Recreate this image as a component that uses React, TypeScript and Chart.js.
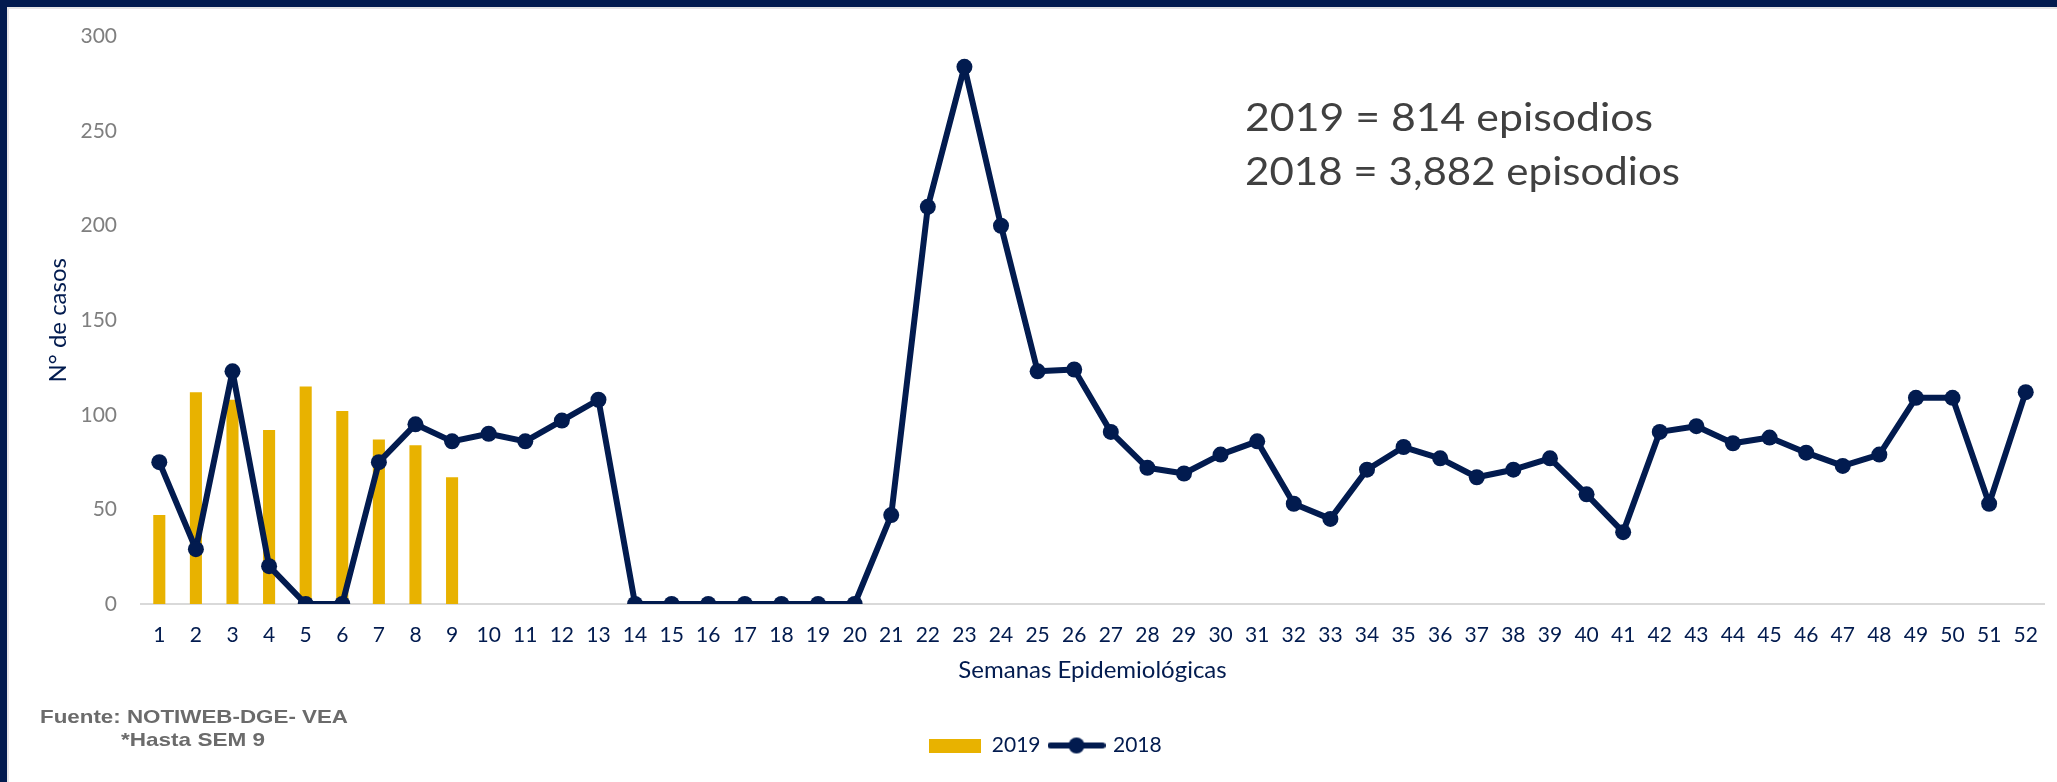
import React, { useEffect, useRef } from "react";
import { Chart, registerables } from "chart.js";

Chart.register(...registerables);

const weeks = [
  "1", "2", "3", "4", "5", "6", "7", "8", "9", "10", "11", "12", "13",
  "14", "15", "16", "17", "18", "19", "20", "21", "22", "23", "24", "25", "26",
  "27", "28", "29", "30", "31", "32", "33", "34", "35", "36", "37", "38", "39",
  "40", "41", "42", "43", "44", "45", "46", "47", "48", "49", "50", "51", "52",
];

const cases2019: (number | null)[] = [47, 112, 108, 92, 115, 102, 87, 84, 67];

const cases2018 = [
  75, 29, 123, 20, 0, 0, 75, 95, 86, 90, 86, 97, 108,
  0, 0, 0, 0, 0, 0, 0, 47, 210, 284, 200, 123, 124,
  91, 72, 69, 79, 86, 53, 45, 71, 83, 77, 67, 71, 77,
  58, 38, 91, 94, 85, 88, 80, 73, 79, 109, 109, 53, 112,
];

const yTicks = [0, 50, 100, 150, 200, 250, 300];

const seriesLabels = ["2019", "2018"];
const summaryLines = ["2019 = 814 episodios", "2018 = 3,882 episodios"];
const sourceLines = ["Fuente: NOTIWEB-DGE- VEA", "*Hasta SEM 9"];
const yTitle = "N° de casos";
const xTitle = "Semanas Epidemiológicas";

const NAVY = "#021B4F";
const GOLD = "#E8B200";
const W = 2057;
const H = 782;
const FONT = "Lato, 'Open Sans', sans-serif";

function makeRectSwatch(): HTMLCanvasElement {
  const c = document.createElement("canvas");
  c.width = 52;
  c.height = 14;
  const g = c.getContext("2d")!;
  g.fillStyle = GOLD;
  g.fillRect(0, 0, 52, 14);
  return c;
}

function makeLineSwatch(): HTMLCanvasElement {
  const c = document.createElement("canvas");
  c.width = 58;
  c.height = 18;
  const g = c.getContext("2d")!;
  g.strokeStyle = NAVY;
  g.lineWidth = 6;
  g.lineCap = "round";
  g.beginPath();
  g.moveTo(3, 9);
  g.lineTo(55, 9);
  g.stroke();
  g.fillStyle = NAVY;
  g.beginPath();
  g.arc(29, 9, 8, 0, Math.PI * 2);
  g.fill();
  return c;
}

function drawStretched(ctx: CanvasRenderingContext2D, text: string, x: number, y: number, targetWidth: number) {
  const w = ctx.measureText(text).width;
  const sx = w > 0 ? targetWidth / w : 1;
  ctx.save();
  ctx.translate(x, y);
  ctx.scale(sx, 1);
  ctx.fillText(text, 0, 0);
  ctx.restore();
}

const framePlugin = {
  id: "frame",
  beforeDraw(chart: any) {
    const ctx = chart.ctx;
    ctx.save();
    ctx.fillStyle = "#FFFFFF";
    ctx.fillRect(0, 0, W, H);
    ctx.fillStyle = "#E6E6E6";
    ctx.fillRect(0, 7, W, 2);
    ctx.fillRect(7, 0, 2, H);
    ctx.fillStyle = NAVY;
    ctx.fillRect(0, 0, W, 7);
    ctx.fillRect(0, 0, 7, H);
    ctx.restore();
  },
  afterLayout(chart: any) {
    if (chart.legend) {
      chart.legend.left += 22;
      chart.legend.right += 22;
    }
  },
  afterDraw(chart: any) {
    const ctx = chart.ctx;
    ctx.save();
    ctx.fillStyle = "#404040";
    ctx.textBaseline = "middle";
    ctx.textAlign = "left";
    ctx.font = `38px ${FONT}`;
    drawStretched(ctx, summaryLines[0], 1245, 119, 408);
    drawStretched(ctx, summaryLines[1], 1245, 173, 435);

    ctx.fillStyle = "#6B6B6B";
    ctx.font = `bold 19px 'Liberation Sans', Arial, sans-serif`;
    drawStretched(ctx, sourceLines[0], 40, 718, 308);
    drawStretched(ctx, sourceLines[1], 121, 741, 144);
    ctx.restore();
  },
};

export default function App() {
  const ref = useRef<HTMLCanvasElement | null>(null);

  useEffect(() => {
    document.body.style.margin = "0";
    const canvas = ref.current!;
    const rectSwatch = makeRectSwatch();
    const lineSwatch = makeLineSwatch();

    const chart = new Chart(canvas, {
      type: "bar",
      data: {
        labels: weeks,
        datasets: [
          {
            type: "bar",
            label: seriesLabels[0],
            data: cases2019,
            backgroundColor: GOLD,
            borderWidth: 0,
            categoryPercentage: 1,
            barPercentage: 0.33,
            order: 2,
          },
          {
            type: "line",
            label: seriesLabels[1],
            data: cases2018,
            borderColor: NAVY,
            backgroundColor: NAVY,
            borderWidth: 6,
            borderJoinStyle: "round",
            borderCapStyle: "round",
            pointRadius: 8,
            pointHoverRadius: 8,
            pointBackgroundColor: NAVY,
            pointBorderWidth: 0,
            tension: 0,
            fill: false,
            order: 1,
          } as any,
        ],
      },
      options: {
        responsive: false,
        animation: false,
        devicePixelRatio: 1,
        layout: { padding: { left: 0, right: 10, top: 36, bottom: 16 } },
        plugins: {
          tooltip: { enabled: false },
          title: { display: false },
          legend: {
            display: true,
            position: "bottom",
            labels: {
              usePointStyle: true,
              pointStyleWidth: 52,
              boxHeight: 14,
              padding: 10,
              color: NAVY,
              font: { family: FONT, size: 21 },
              generateLabels: (ch: any) =>
                ch.data.datasets.map((ds: any, i: number) => ({
                  text: ds.label,
                  datasetIndex: i,
                  fillStyle: i === 0 ? GOLD : NAVY,
                  strokeStyle: i === 0 ? GOLD : NAVY,
                  lineWidth: 0,
                  hidden: !ch.isDatasetVisible(i),
                  pointStyle: i === 0 ? rectSwatch : lineSwatch,
                  fontColor: NAVY,
                })),
            },
          },
        },
        scales: {
          x: {
            offset: true,
            grid: { display: false, drawTicks: false },
            border: { display: true, color: "#D9D9D9", width: 2 },
            ticks: {
              color: NAVY,
              font: { family: FONT, size: 21 },
              padding: 19,
              maxRotation: 0,
              autoSkip: false,
            },
            title: {
              display: true,
              text: xTitle,
              color: NAVY,
              font: { family: FONT, size: 24 },
              padding: { top: 10, bottom: 40 },
            },
            afterFit: (s: any) => {
              s.height = 121;
            },
          },
          y: {
            min: 0,
            max: 300,
            grid: { display: false, drawTicks: false },
            border: { display: false },
            afterBuildTicks: (s: any) => {
              s.ticks = yTicks.map((v) => ({ value: v }));
            },
            ticks: {
              color: "#7F7F7F",
              font: { family: FONT, size: 21 },
              padding: 24,
            },
            title: {
              display: true,
              text: yTitle,
              color: NAVY,
              font: { family: FONT, size: 24 },
              padding: { top: 44, bottom: 0 },
            },
            afterFit: (s: any) => {
              s.width = 141;
            },
          },
        },
      },
      plugins: [framePlugin],
    });

    return () => {
      chart.destroy();
    };
  }, []);

  return (
    <div style={{ position: "absolute", left: 0, top: 0, width: W, height: H }}>
      <canvas ref={ref} width={W} height={H} style={{ display: "block", width: W, height: H }} />
    </div>
  );
}
